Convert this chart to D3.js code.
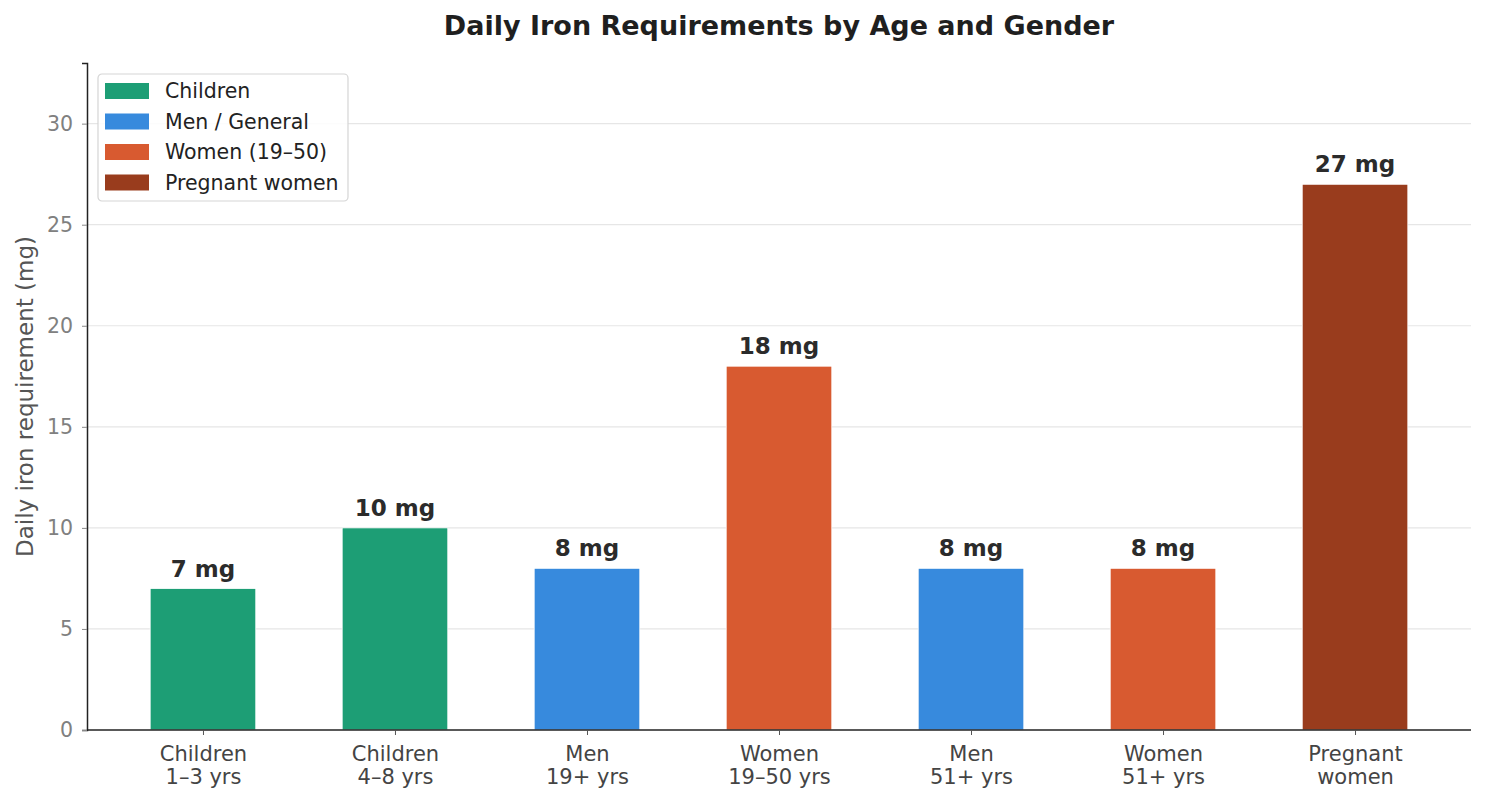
<!DOCTYPE html>
<html>
<head>
<meta charset="utf-8">
<script src="https://cdn.jsdelivr.net/npm/d3@7"></script>
<style>
  body { margin: 0; background: #fff; }
  text { font-family: "DejaVu Sans", sans-serif; }
</style>
</head>
<body>
<svg id="chart" width="1485" height="803"></svg>
<script>
// data
var labels = [["Children", "1–3 yrs"], ["Children", "4–8 yrs"], ["Men", "19+ yrs"], ["Women", "19–50 yrs"],
              ["Men", "51+ yrs"], ["Women", "51+ yrs"], ["Pregnant", "women"]];
var values = [7, 10, 8, 18, 8, 8, 27];
var groups = ["Children", "Children", "Men / General", "Women (19–50)", "Men / General", "Women (19–50)", "Pregnant women"];
var legendNames = ["Children", "Men / General", "Women (19–50)", "Pregnant women"];
var legendColors = ["#1d9e75", "#378add", "#d85a30", "#993c1d"];
var yTicks = [0, 5, 10, 15, 20, 25, 30];

var svg = d3.select("#chart");
var margin = {left: 87, right: 14, top: 63, bottom: 73};
var W = 1485, H = 803;

var color = d3.scaleOrdinal().domain(legendNames).range(legendColors);

// categorical positions, matplotlib style (-0.6 .. n-0.4)
var x = d3.scaleLinear().domain([-0.604, values.length - 1 + 0.604]).range([margin.left, W - margin.right]);
var y = d3.scaleLinear().domain([0, 33]).range([H - margin.bottom, margin.top]);
var barW = (x(1) - x(0)) * 0.55;

// grid
svg.append("g").selectAll("line")
  .data(yTicks.filter(function(d){ return d > 0; }))
  .enter().append("line")
  .attr("x1", margin.left).attr("x2", W - margin.right)
  .attr("y1", function(d){ return y(d); }).attr("y2", function(d){ return y(d); })
  .style("stroke", "#e6e6e6").style("stroke-width", 1.2);

// bars
svg.append("g").selectAll("rect")
  .data(values)
  .enter().append("rect")
  .attr("x", function(d, i){ return x(i) - barW / 2; })
  .attr("y", function(d){ return y(d); })
  .attr("width", barW)
  .attr("height", function(d){ return y(0) - y(d); })
  .style("fill", function(d, i){ return color(groups[i]); })
  .style("stroke", "#fff").style("stroke-width", 0.8);

// value labels
svg.append("g").selectAll("text")
  .data(values)
  .enter().append("text")
  .attr("x", function(d, i){ return x(i); })
  .attr("y", function(d){ return y(d) - 12; })
  .attr("text-anchor", "middle")
  .style("font-size", "23px").style("font-weight", "bold").style("fill", "#2b2b2b")
  .text(function(d){ return d + " mg"; });

// y axis
var yAxis = d3.axisLeft(y).tickValues(yTicks).tickSize(5).tickPadding(9);
var gy = svg.append("g").attr("transform", "translate(" + margin.left + ",0)").call(yAxis);
gy.select(".domain").style("stroke", "#222").style("stroke-width", 1.5);
gy.selectAll(".tick line").style("stroke", "#888");
gy.selectAll(".tick text").style("font-size", "20.5px").style("fill", "#808080").style("font-family", "DejaVu Sans");

// x axis
var xAxis = d3.axisBottom(x).tickValues(d3.range(values.length)).tickSize(5).tickFormat("");
var gx = svg.append("g").attr("transform", "translate(0," + y(0) + ")").call(xAxis);
gx.select(".domain").attr("d", "M" + margin.left + ",0H" + (W - margin.right)).style("stroke", "#222").style("stroke-width", 1.5);
gx.selectAll(".tick line").style("stroke", "#555");
gx.selectAll(".tick").each(function(d){
  var t = d3.select(this).append("text").attr("text-anchor", "middle")
    .style("font-size", "21px").style("fill", "#444");
  t.append("tspan").attr("x", 0).attr("y", 31).text(labels[d][0]);
  t.append("tspan").attr("x", 0).attr("y", 54).text(labels[d][1]);
});

// y label
svg.append("text")
  .attr("transform", "translate(33," + ((y(0) + y(33)) / 2) + ") rotate(-90)")
  .attr("text-anchor", "middle")
  .style("font-size", "23px").style("fill", "#555")
  .text("Daily iron requirement (mg)");

// title
svg.append("text")
  .attr("x", (margin.left + W - margin.right) / 2).attr("y", 35)
  .attr("text-anchor", "middle")
  .style("font-size", "27px").style("font-weight", "bold").style("fill", "#1f1f1f")
  .text("Daily Iron Requirements by Age and Gender");

// legend
var lg = svg.append("g").attr("transform", "translate(98,74)");
lg.append("rect").attr("width", 250).attr("height", 127).attr("rx", 4)
  .style("fill", "#fff").style("fill-opacity", 0.85).style("stroke", "#d5d5d5").style("stroke-width", 1.2);
var items = lg.selectAll("g.item").data(legendNames).enter().append("g")
  .attr("transform", function(d, i){ return "translate(0," + (17 + i * 30.5) + ")"; });
items.append("rect").attr("x", 7).attr("y", -8).attr("width", 44).attr("height", 16)
  .style("fill", function(d){ return color(d); });
items.append("text").attr("x", 67).attr("y", 7)
  .style("font-size", "20.5px").style("fill", "#222")
  .text(function(d){ return d; });
</script>
</body>
</html>
